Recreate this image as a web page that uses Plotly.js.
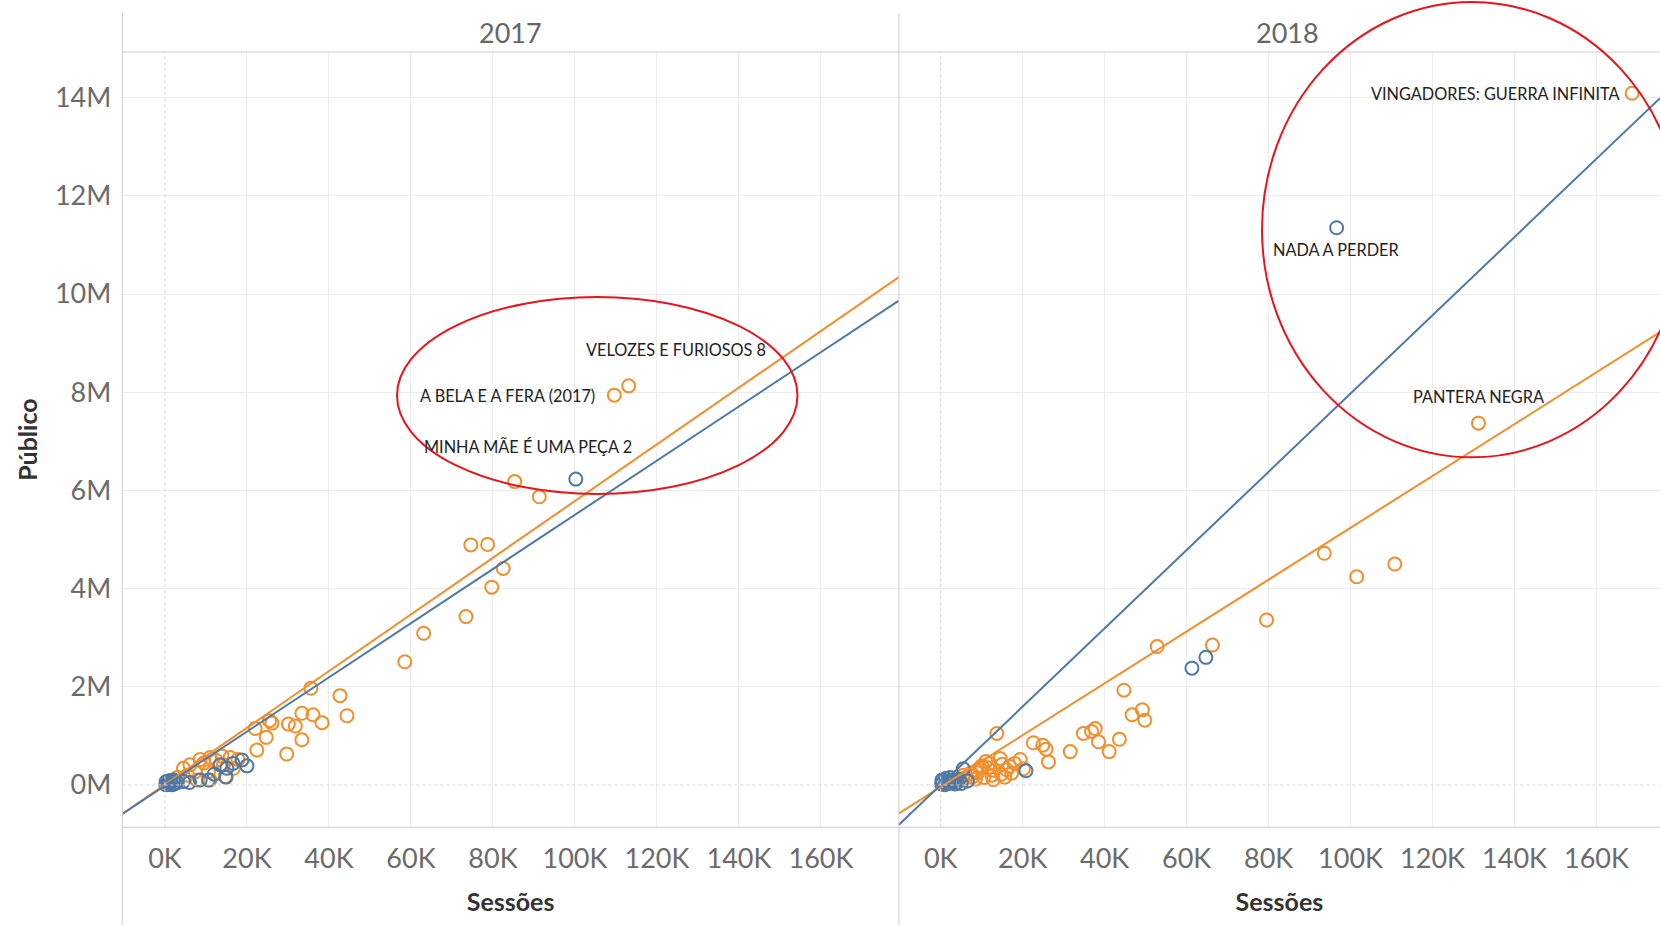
<!DOCTYPE html>
<html>
<head>
<meta charset="utf-8">
<script src="https://cdn.plot.ly/plotly-3.0.1.min.js"></script>
<style>
  html, body { margin: 0; padding: 0; background: #ffffff; }
  #chart { width: 1660px; height: 925px; }
</style>
</head>
<body>
<div id="chart"></div>
<script>
// ---------- DATA ----------
const panelYears = ['2017', '2018'];

// 2017 - filmes estrangeiros (laranja)
const sessoes2017Estrangeiro = [113100, 109600, 85300, 91300, 74600, 78700, 82500, 79700, 73400, 63100,
  58500, 35600, 42700, 44400, 33400, 36100, 38300, 30100, 31800, 25500, 26100, 22000, 24700, 33400, 22400,
  29700, 8600, 11000, 13900, 15900, 4500, 6100, 7400, 10600, 11000, 7800, 14300, 16700, 14700, 9500, 12500,
  5500, 3000, 2000, 17800];
const publico2017Estrangeiro = [8130000, 7940000, 6180000, 5870000, 4890000, 4900000, 4410000, 4030000, 3430000, 3090000,
  2510000, 1970000, 1820000, 1410000, 1460000, 1430000, 1270000, 1240000, 1200000, 1310000, 1260000, 1150000, 970000, 920000, 710000,
  630000, 520000, 560000, 590000, 560000, 340000, 410000, 270000, 270000, 100000, 100000, 410000, 340000, 170000, 450000, 500000,
  200000, 150000, 80000, 520000];
const titulos2017Estrangeiro = ['VELOZES E FURIOSOS 8', 'A BELA E A FERA (2017)'];

// 2017 - filmes brasileiros (azul)
const sessoes2017Nacional = [100200, 18800, 20000, 16600, 15100, 13500, 14900, 10600, 8600, 4500, 2100, 12000,
  6000, 3000, 200, 500, 1000, 1500, 2500, 800, 300, 1200, 1800];
const publico2017Nacional = [6230000, 510000, 390000, 440000, 340000, 410000, 160000, 100000, 100000, 70000, 100000, 220000,
  50000, 50000, 5000, 50000, 10000, 60000, 30000, 30000, 70000, 90000, 5000];
const titulos2017Nacional = ['MINHA MÃE É UMA PEÇA 2'];

// 2018 - filmes estrangeiros (laranja)
const sessoes2018Estrangeiro = [168700, 131200, 93600, 101500, 110800, 79500, 52800, 66300, 44700, 46700,
  49200, 49800, 34800, 36800, 37700, 38500, 43600, 41100, 31600, 13700, 22600, 24900, 25700, 26300, 19400,
  14500, 12000, 9600, 16100, 17300, 7200, 5500, 10500, 13000, 15000, 11000, 8500, 12500, 14800, 16800,
  6500, 9000, 11500, 4000, 18000, 20200, 3000, 7800, 10000, 12800, 15600, 8800, 6000];
const publico2018Estrangeiro = [14090000, 7370000, 4720000, 4240000, 4500000, 3360000, 2820000, 2850000, 1930000, 1430000,
  1530000, 1320000, 1050000, 1090000, 1150000, 880000, 930000, 680000, 680000, 1050000, 860000, 810000, 730000, 470000, 520000,
  540000, 440000, 340000, 310000, 240000, 240000, 200000, 150000, 300000, 420000, 480000, 120000, 200000, 220000, 380000,
  80000, 250000, 350000, 100000, 440000, 330000, 50000, 170000, 390000, 110000, 160000, 300000, 140000];
const titulos2018Estrangeiro = ['VINGADORES: GUERRA INFINITA', 'PANTERA NEGRA'];

// 2018 - filmes brasileiros (azul)
const sessoes2018Nacional = [96600, 64700, 61300, 20800, 5500, 200, 500, 1000, 1500, 2000, 2500, 3000, 3500,
  4000, 4500, 5000, 300, 1200, 2200, 6500];
const publico2018Nacional = [11350000, 2600000, 2380000, 290000, 330000, 20000, 50000, 5000, 80000, 30000, 60000, 100000, 20000,
  50000, 120000, 30000, 100000, 130000, 150000, 80000];
const titulos2018Nacional = ['NADA A PERDER'];

// Linhas de tendência (público = inclinação * sessões + intercepto), por ano
const tendEstrangeiroInclinacao = [57.74, 52.8];
const tendEstrangeiroIntercepto = [10500, -41000];
const tendNacionalInclinacao = [55.2, 79.7];
const tendNacionalIntercepto = [-16000, 3000];

// Rótulos dos eixos
const xTickVals = [0, 20000, 40000, 60000, 80000, 100000, 120000, 140000, 160000];
const xTickText = ['0K', '20K', '40K', '60K', '80K', '100K', '120K', '140K', '160K'];
const yTickVals = [0, 2000000, 4000000, 6000000, 8000000, 10000000, 12000000, 14000000];
const yTickText = ['0M', '2M', '4M', '6M', '8M', '10M', '12M', '14M'];

// ---------- STYLE ----------
const W = 1660, H = 925;
const ORANGE = '#F28E2B';
const BLUE = '#4E79A7';
const FONT = 'Lato, "Open Sans", sans-serif';
const TICKC = '#6b6b6b';
const GRID = '#ececec';
const BORDER = '#cdcdcd';

const px = v => v / W;
const py = v => 1 - v / H;

const leftX = 122.3, divX = 898.9, topY = 52, botY = 827.3, headTop = 13;
const xRanges = [[-10400, 179000], [-10200, 175500]];
const yRange = [-862000, 14930000];

function markerTrace(x, y, color, xa, ya, name) {
  return {
    type: 'scatter', mode: 'markers', x: x, y: y, xaxis: xa, yaxis: ya, name: name,
    marker: { symbol: 'circle-open', size: 13, color: color, line: { width: 2, color: color } },
    hoverinfo: 'x+y', showlegend: false
  };
}
function trendTrace(slope, icpt, range, color, xa, ya, name) {
  const xs = [range[0], range[1]];
  return {
    type: 'scatter', mode: 'lines', x: xs, y: xs.map(v => icpt + slope * v),
    xaxis: xa, yaxis: ya, name: name, line: { color: color, width: 2 },
    hoverinfo: 'skip', showlegend: false
  };
}

const traces = [
  markerTrace(sessoes2017Estrangeiro, publico2017Estrangeiro, ORANGE, 'x', 'y', 'Estrangeiro 2017'),
  markerTrace(sessoes2017Nacional, publico2017Nacional, BLUE, 'x', 'y', 'Brasileiro 2017'),
  markerTrace(sessoes2018Estrangeiro, publico2018Estrangeiro, ORANGE, 'x2', 'y2', 'Estrangeiro 2018'),
  markerTrace(sessoes2018Nacional, publico2018Nacional, BLUE, 'x2', 'y2', 'Brasileiro 2018'),
  trendTrace(tendEstrangeiroInclinacao[0], tendEstrangeiroIntercepto[0], xRanges[0], ORANGE, 'x', 'y', 'Tendência estrangeiro 2017'),
  trendTrace(tendNacionalInclinacao[0], tendNacionalIntercepto[0], xRanges[0], BLUE, 'x', 'y', 'Tendência brasileiro 2017'),
  trendTrace(tendEstrangeiroInclinacao[1], tendEstrangeiroIntercepto[1], xRanges[1], ORANGE, 'x2', 'y2', 'Tendência estrangeiro 2018'),
  trendTrace(tendNacionalInclinacao[1], tendNacionalIntercepto[1], xRanges[1], BLUE, 'x2', 'y2', 'Tendência brasileiro 2018')
];

const tickFont = { family: FONT, size: 27, color: TICKC };
const titleFont = { family: FONT, size: 25, color: '#333333', weight: 'bold' };

function xAxis(domain, range, anchor) {
  return {
    domain: domain, range: range, anchor: anchor,
    tickmode: 'array', tickvals: xTickVals, ticktext: xTickText,
    tickfont: tickFont, ticks: '', ticklabelstandoff: 13,
    showgrid: true, gridcolor: GRID, gridwidth: 1,
    zeroline: true, zerolinecolor: 'rgba(0,0,0,0)', zerolinewidth: 1,
    showline: false, fixedrange: true,
    title: { text: 'Sessões', font: titleFont, standoff: 20 }
  };
}
function yAxis(anchor, showLabels, matches) {
  const a = {
    domain: [py(botY), py(topY)], range: yRange, anchor: anchor,
    tickmode: 'array', tickvals: yTickVals, ticktext: yTickText,
    tickfont: tickFont, ticks: '', ticklabelstandoff: 10, showticklabels: showLabels,
    showgrid: true, gridcolor: GRID, gridwidth: 1,
    zeroline: true, zerolinecolor: 'rgba(0,0,0,0)', zerolinewidth: 1,
    showline: false, fixedrange: true
  };
  if (showLabels) a.title = { text: 'Público', font: titleFont, standoff: 10 };
  if (matches) a.matches = matches;
  return a;
}

// labelled films: [texto, x, y, xanchor, yanchor, xshift, yshift, xref, yref]
const labelDefs = [
  [titulos2017Estrangeiro[0], sessoes2017Estrangeiro[0], publico2017Estrangeiro[0], 'center', 'middle', 47, 36, 'x', 'y'],
  [titulos2017Estrangeiro[1], sessoes2017Estrangeiro[1], publico2017Estrangeiro[1], 'right', 'middle', -17, 0, 'x', 'y'],
  [titulos2017Nacional[0], sessoes2017Nacional[0], publico2017Nacional[0], 'center', 'middle', -48, 33, 'x', 'y'],
  [titulos2018Estrangeiro[0], sessoes2018Estrangeiro[0], publico2018Estrangeiro[0], 'right', 'middle', -11, 0, 'x2', 'y2'],
  [titulos2018Estrangeiro[1], sessoes2018Estrangeiro[1], publico2018Estrangeiro[1], 'center', 'middle', 0, 27, 'x2', 'y2'],
  [titulos2018Nacional[0], sessoes2018Nacional[0], publico2018Nacional[0], 'center', 'middle', -1, -22, 'x2', 'y2']
];
const labelAnnots = labelDefs.map(d => ({
  text: d[0], x: d[1], y: d[2], xref: d[7], yref: d[8], showarrow: false,
  xanchor: d[3], yanchor: d[4], xshift: d[5], yshift: d[6],
  font: { family: FONT, size: 16.3, color: '#222222' }
}));

const headerAnnots = [
  { text: panelYears[0], xref: 'paper', yref: 'paper', x: px((leftX + divX) / 2), y: py(33), showarrow: false,
    xanchor: 'center', yanchor: 'middle', font: { family: FONT, size: 27, color: '#666666' } },
  { text: panelYears[1], xref: 'paper', yref: 'paper', x: px(1287), y: py(33), showarrow: false,
    xanchor: 'center', yanchor: 'middle', font: { family: FONT, size: 27, color: '#666666' } }
];

const shapes = [
  // zero lines (dotted)
  { type: 'line', xref: 'x', yref: 'y domain', x0: 0, x1: 0, y0: 0, y1: 1, line: { color: '#d6d6d6', width: 1, dash: 'dot' } },
  { type: 'line', xref: 'x2', yref: 'y2 domain', x0: 0, x1: 0, y0: 0, y1: 1, line: { color: '#d6d6d6', width: 1, dash: 'dot' } },
  { type: 'line', xref: 'paper', yref: 'y', x0: px(leftX), x1: 1, y0: 0, y1: 0, line: { color: '#d6d6d6', width: 1, dash: 'dot' } },
  // frame
  { type: 'line', xref: 'paper', yref: 'paper', x0: px(leftX), x1: px(leftX), y0: 0, y1: py(headTop), line: { color: BORDER, width: 1 } },
  { type: 'line', xref: 'paper', yref: 'paper', x0: px(divX), x1: px(divX), y0: 0, y1: py(headTop), line: { color: BORDER, width: 1 } },
  { type: 'line', xref: 'paper', yref: 'paper', x0: px(leftX), x1: 1, y0: py(topY), y1: py(topY), line: { color: BORDER, width: 1 } },
  { type: 'line', xref: 'paper', yref: 'paper', x0: px(leftX), x1: 1, y0: py(botY), y1: py(botY), line: { color: BORDER, width: 1 } },
  // red highlight ellipses
  { type: 'circle', xref: 'paper', yref: 'paper', x0: px(397), x1: px(797.5), y0: py(494), y1: py(297), line: { color: '#e8141c', width: 2 } },
  { type: 'circle', xref: 'paper', yref: 'paper', x0: px(1262), x1: px(1682), y0: py(457.3), y1: py(2), line: { color: '#e8141c', width: 2 } }
];

const layout = {
  width: W, height: H,
  margin: { l: 0, r: 0, t: 0, b: 0, pad: 0 },
  paper_bgcolor: '#ffffff', plot_bgcolor: '#ffffff',
  showlegend: false,
  xaxis: xAxis([px(leftX), px(divX)], xRanges[0], 'y'),
  xaxis2: xAxis([px(divX), 1], xRanges[1], 'y2'),
  yaxis: yAxis('x', true),
  yaxis2: yAxis('x2', false, 'y'),
  shapes: shapes,
  annotations: headerAnnots.concat(labelAnnots),
  font: { family: FONT }
};

Plotly.newPlot('chart', traces, layout, { displayModeBar: false, staticPlot: true });
</script>
</body>
</html>
